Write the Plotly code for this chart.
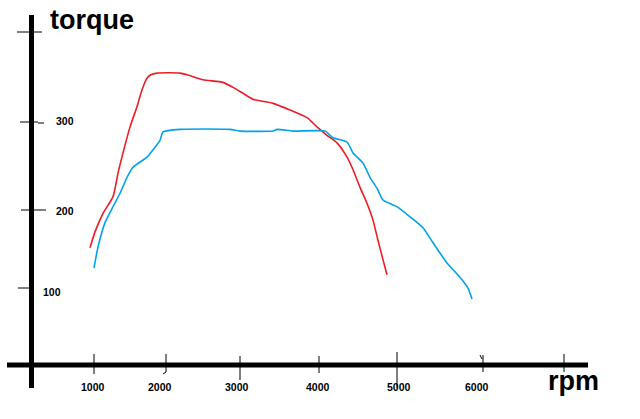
import plotly.graph_objects as go

# ---- data ----
red_rpm = [961, 1026, 1130, 1260, 1325, 1390, 1481, 1571, 1636, 1701, 1753, 1831, 2130, 2221, 2429,
           2688, 2818, 2948, 3078, 3338, 3558, 3779, 3909, 4039, 4169, 4299, 4377, 4468, 4558,
           4636, 4701, 4766, 4818]
red_torque = [149, 168, 190, 210, 238, 262, 293, 317, 337, 351, 355, 357, 357, 355, 349,
              346, 340, 333, 326, 321, 313, 304, 293, 283, 274, 257, 242, 221, 202,
              182, 158, 135, 117]

blue_rpm = [1013, 1065, 1156, 1260, 1351, 1442, 1519, 1701, 1870, 1909, 2130, 2779, 2909, 3338,
            3390, 3597, 4013, 4117, 4299, 4377, 4506, 4597, 4688, 4766, 4948, 5117, 5286, 5416,
            5597, 5766, 5870, 5922]
blue_torque = [125, 150, 179, 198, 214, 233, 245, 257, 277, 287, 290, 290, 288, 288,
               290, 288, 288, 280, 275, 262, 250, 233, 220, 206, 198, 186, 173, 155,
               131, 114, 101, 88]

x_tick_labels = ["1000", "2000", "3000", "4000", "5000", "6000"]
y_tick_labels = ["300", "200", "100"]
x_title = "rpm"
y_title = "torque"

# ---- layout constants (pixel geometry of the hand-drawn frame) ----
W, H = 640, 419
RED = "#ED1C24"
BLUE = "#00A2E8"

fig = go.Figure()
fig.add_trace(go.Scatter(x=red_rpm, y=red_torque, mode="lines",
                         line=dict(color=RED, width=1.6, shape="spline", smoothing=0.6),
                         hoverinfo="skip", showlegend=False))
fig.add_trace(go.Scatter(x=blue_rpm, y=blue_torque, mode="lines",
                         line=dict(color=BLUE, width=1.6, shape="spline", smoothing=0.5),
                         hoverinfo="skip", showlegend=False))

shapes = []
def pline(x0, y0, x1, y1, w):
    shapes.append(dict(type="line", xref="x2", yref="y2", x0=x0, y0=y0, x1=x1, y1=y1,
                       line=dict(color="black", width=w), layer="above"))

# axes
pline(31.5, 15, 31.5, 388, 5)
pline(7, 365, 588, 365, 5)
# x ticks
for tx, ty0, ty1 in [(94, 354, 374), (166, 354, 372), (240, 356, 380), (319, 356, 373),
                     (397, 352, 388), (483, 355, 372), (564, 354, 372)]:
    pline(tx, ty0, tx, ty1, 1)
pline(166, 372, 163, 374, 1)
pline(480, 355, 482, 359, 1)
# y ticks
for yy, xa, xb in [(32, 17, 42), (122, 20, 38), (210, 21, 46), (288, 18, 33)]:
    pline(xa, yy, xb, yy, 1)
pline(38, 123, 44, 123, 1)

annotations = []
def ptext(x, y, t, size, anchor="center"):
    annotations.append(dict(xref="x2", yref="y2", x=x, y=y, text=t, showarrow=False,
                            xanchor=anchor, yanchor="middle",
                            font=dict(family="Liberation Sans, Arial", size=size, color="black"),
                            borderpad=0))

for lx, t in zip([93, 160, 237, 318, 399, 477], x_tick_labels):
    ptext(lx, 387, "<b>%s</b>" % t, 10.5)
for (lx, ly), t in zip([(65, 121), (65, 211), (52, 292)], y_tick_labels):
    ptext(lx, ly, "<b>%s</b>" % t, 10.5)
ptext(49, 20, "<b>%s</b>" % y_title, 27, "left")
ptext(547, 381, "<b>%s</b>" % x_title, 27, "left")

fig.update_layout(
    width=W, height=H, autosize=False,
    margin=dict(l=0, r=0, t=0, b=0, pad=0),
    paper_bgcolor="white", plot_bgcolor="white",
    xaxis=dict(range=[1000 - 93 / 0.077, 1000 + (W - 93) / 0.077], visible=False, fixedrange=True),
    yaxis=dict(range=[300 - (H - 121) / 0.84, 300 + 121 / 0.84], visible=False, fixedrange=True),
    xaxis2=dict(range=[0, W], visible=False, overlaying="x", fixedrange=True),
    yaxis2=dict(range=[H, 0], visible=False, overlaying="y", fixedrange=True),
    shapes=shapes, annotations=annotations,
)
# invisible trace to activate the pixel-overlay axes
fig.add_trace(go.Scatter(x=[0], y=[0], xaxis="x2", yaxis="y2", mode="markers",
                         marker=dict(opacity=0), hoverinfo="skip", showlegend=False))

fig.write_html("out.html", config={"displayModeBar": False, "staticPlot": True},
               post_script="document.body.style.margin='0';document.body.style.overflow='hidden';")
